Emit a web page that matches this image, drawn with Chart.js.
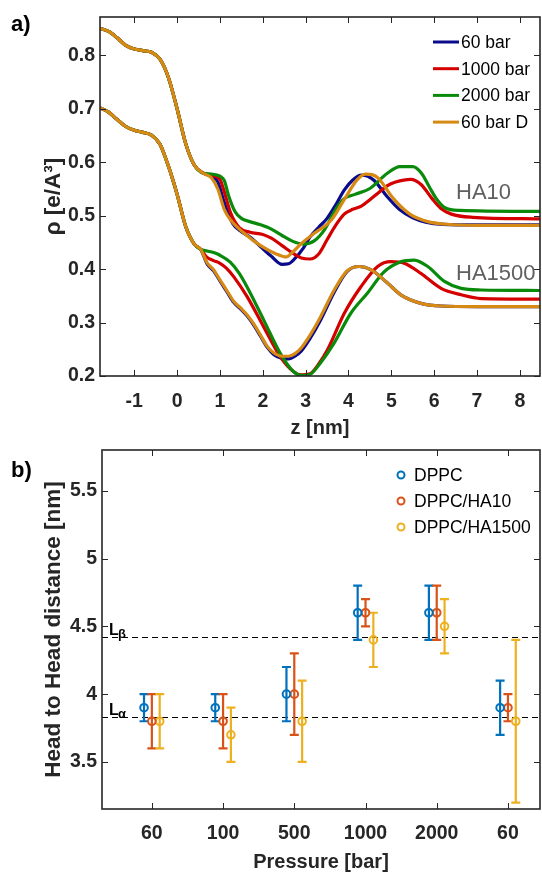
<!DOCTYPE html>
<html>
<head>
<meta charset="utf-8">
<script src="https://cdn.jsdelivr.net/npm/chart.js@4.4.0/dist/chart.umd.min.js"></script>
<style>
  html, body { margin: 0; padding: 0; background: #fff; }
  #wrap { position: relative; width: 542px; height: 875px; }
  #densidade { position: absolute; left: 0; top: 0; }
  #distancia { position: absolute; left: 0; top: 440px; }
</style>
</head>
<body>
<div id="wrap">
  <canvas id="densidade" width="542" height="440"></canvas>
  <canvas id="distancia" width="542" height="435"></canvas>
</div>
<script>
// ---- painel a) perfis de densidade ----
const pressoes = ['60 bar', '1000 bar', '2000 bar', '60 bar D'];
const coresPressao = ['#0a0a8c', '#d40000', '#0a8a0a', '#d68a14'];
const zTicks = [-1, 0, 1, 2, 3, 4, 5, 6, 7, 8];
const rhoTicks = [0.2, 0.3, 0.4, 0.5, 0.6, 0.7, 0.8];

// parte comum (z, rho) antes das curvas se separarem
const inicioHA10 = [[-1.8,0.851],[-1.6,0.845],[-1.4,0.833],[-1.2,0.819],[-1.0,0.812],[-0.8,0.809],[-0.6,0.806],[-0.4,0.793],[-0.2,0.758],[0.0,0.700],[0.2,0.635],[0.4,0.595],[0.6,0.580]];
const inicioHA1500 = [[-1.8,0.702],[-1.6,0.694],[-1.4,0.680],[-1.2,0.667],[-1.0,0.660],[-0.8,0.656],[-0.6,0.651],[-0.4,0.634],[-0.2,0.592],[0.0,0.540],[0.2,0.480],[0.4,0.447],[0.55,0.437]];

const ha10_60 = inicioHA10.concat([[0.8,0.574],[0.95,0.563],[1.1,0.525],[1.3,0.485],[1.5,0.470],[1.7,0.460],[1.95,0.442],[2.2,0.424],[2.45,0.409],[2.6,0.410],[2.75,0.420],[2.95,0.440],[3.1,0.460],[3.3,0.478],[3.5,0.495],[3.7,0.520],[3.9,0.548],[4.1,0.567],[4.3,0.576],[4.45,0.574],[4.6,0.566],[4.9,0.536],[5.2,0.511],[5.5,0.496],[5.8,0.488],[6.2,0.484],[7.0,0.483],[8.5,0.483]]);
const ha10_1000 = inicioHA10.concat([[0.8,0.576],[1.0,0.568],[1.1,0.545],[1.25,0.505],[1.45,0.478],[1.7,0.469],[2.0,0.465],[2.2,0.458],[2.45,0.444],[2.7,0.430],[2.9,0.421],[3.1,0.419],[3.3,0.428],[3.5,0.455],[3.7,0.482],[3.9,0.503],[4.1,0.512],[4.3,0.518],[4.5,0.530],[4.7,0.543],[4.9,0.556],[5.1,0.563],[5.45,0.568],[5.7,0.558],[5.95,0.532],[6.15,0.514],[6.4,0.503],[6.9,0.497],[8.5,0.494]]);
const ha10_2000 = inicioHA10.concat([[0.8,0.578],[1.0,0.574],[1.1,0.566],[1.2,0.538],[1.35,0.508],[1.5,0.495],[1.7,0.489],[1.95,0.483],[2.2,0.475],[2.45,0.463],[2.7,0.452],[2.95,0.447],[3.2,0.453],[3.45,0.475],[3.7,0.512],[3.9,0.532],[4.15,0.540],[4.5,0.551],[4.9,0.579],[5.2,0.592],[5.5,0.592],[5.7,0.580],[5.9,0.552],[6.05,0.532],[6.25,0.515],[6.6,0.510],[8.5,0.508]]);
const ha10_60D = inicioHA10.concat([[0.8,0.571],[0.95,0.550],[1.1,0.512],[1.25,0.492],[1.55,0.468],[1.95,0.444],[2.3,0.429],[2.55,0.423],[2.7,0.432],[2.9,0.448],[3.2,0.467],[3.6,0.492],[3.9,0.530],[4.2,0.567],[4.4,0.578],[4.55,0.577],[4.7,0.570],[5.05,0.532],[5.45,0.502],[5.85,0.489],[6.3,0.484],[7.0,0.482],[8.5,0.482]]);

const ha1500_60 = inicioHA1500.concat([[0.7,0.410],[0.85,0.397],[1.0,0.378],[1.16,0.358],[1.32,0.338],[1.5,0.324],[1.65,0.311],[1.8,0.294],[1.95,0.274],[2.1,0.254],[2.26,0.240],[2.45,0.233],[2.6,0.232],[2.75,0.237],[2.9,0.247],[3.1,0.270],[3.35,0.305],[3.66,0.356],[3.97,0.396],[4.25,0.405],[4.52,0.399],[4.91,0.374],[5.22,0.352],[5.69,0.336],[6.16,0.331],[7.0,0.330],[8.5,0.330]]);
const ha1500_1000 = inicioHA1500.concat([[0.7,0.422],[0.85,0.416],[1.0,0.411],[1.15,0.402],[1.32,0.386],[1.63,0.349],[2.02,0.292],[2.41,0.236],[2.72,0.208],[2.9,0.202],[3.1,0.204],[3.3,0.222],[3.51,0.249],[3.9,0.317],[4.29,0.367],[4.68,0.405],[4.99,0.414],[5.3,0.411],[5.69,0.392],[6.16,0.364],[6.63,0.352],[7.1,0.345],[8.5,0.344]]);
const ha1500_2000 = inicioHA1500.concat([[0.7,0.434],[0.85,0.431],[1.0,0.426],[1.24,0.413],[1.45,0.392],[1.63,0.367],[2.02,0.305],[2.41,0.242],[2.72,0.208],[2.9,0.201],[3.1,0.203],[3.35,0.225],[3.66,0.261],[4.05,0.317],[4.44,0.355],[4.83,0.395],[5.22,0.414],[5.53,0.417],[5.85,0.405],[6.24,0.377],[6.63,0.364],[7.1,0.361],[8.5,0.360]]);
const ha1500_60D = inicioHA1500.concat([[0.7,0.412],[0.85,0.399],[1.0,0.380],[1.16,0.360],[1.32,0.340],[1.5,0.326],[1.65,0.313],[1.8,0.296],[1.95,0.276],[2.1,0.256],[2.26,0.243],[2.45,0.237],[2.6,0.237],[2.75,0.242],[2.9,0.253],[3.1,0.276],[3.35,0.311],[3.66,0.360],[3.97,0.397],[4.25,0.405],[4.52,0.399],[4.91,0.374],[5.22,0.352],[5.69,0.336],[6.16,0.331],[7.0,0.330],[8.5,0.330]]);

// ---- painel b) distancia cabeca a cabeca ----
const rotulosPressao = ['60', '100', '500', '1000', '2000', '60'];
const amostras = ['DPPC', 'DPPC/HA10', 'DPPC/HA1500'];
const coresAmostra = ['#0072bd', '#d95319', '#edb120'];
const dppc = [3.9, 3.9, 4.0, 4.6, 4.6, 3.9];
const dppcErro = [0.1, 0.1, 0.2, 0.2, 0.2, 0.2];
const dppcHA10 = [3.8, 3.8, 4.0, 4.6, 4.6, 3.9];
const dppcHA10Erro = [0.2, 0.2, 0.3, 0.1, 0.2, 0.1];
const dppcHA1500 = [3.8, 3.7, 3.8, 4.4, 4.5, 3.8];
const dppcHA1500Erro = [0.2, 0.2, 0.3, 0.2, 0.2, 0.6];
const distTicks = [3.5, 4, 4.5, 5, 5.5];
const distRotulos = ['3.5', '4', '4.5', '5', '5.5'];
const fases = [{ nome: 'β', valor: 4.42 }, { nome: 'α', valor: 3.83 }];

const FONTE = "'Liberation Sans', Arial, sans-serif";
const COR_EIXO = '#262626';
const fonteTick = { family: FONTE, size: 19.5, weight: 'bold' };
const fonteTitulo = { family: FONTE, size: 20, weight: 'bold' };
const fonteTituloY = { family: FONTE, size: 22.5, weight: 'bold' };

Chart.defaults.font.family = FONTE;
Chart.defaults.color = COR_EIXO;

// sem folgas automaticas: a area do grafico fica onde o layout manda
function semFolga(s) {
  s.paddingTop = 0; s.paddingBottom = 0; s.paddingLeft = 0; s.paddingRight = 0;
}

// moldura e ticks para dentro nos quatro lados
const moldura = {
  id: 'moldura',
  afterDraw(chart) {
    const { ctx, chartArea: a, scales: { x, y } } = chart;
    ctx.save();
    ctx.strokeStyle = COR_EIXO;
    ctx.lineWidth = 1;
    ctx.beginPath();
    x.ticks.forEach(t => {
      const px = Math.round(x.getPixelForValue(t.value)) + 0.5;
      ctx.moveTo(px, a.bottom); ctx.lineTo(px, a.bottom - 6);
      ctx.moveTo(px, a.top); ctx.lineTo(px, a.top + 6);
    });
    y.ticks.forEach(t => {
      const py = Math.round(y.getPixelForValue(t.value)) + 0.5;
      ctx.moveTo(a.left, py); ctx.lineTo(a.left + 6, py);
      ctx.moveTo(a.right, py); ctx.lineTo(a.right - 6, py);
    });
    ctx.stroke();
    ctx.lineWidth = 1.6;
    ctx.strokeRect(a.left, a.top, a.right - a.left, a.bottom - a.top);
    ctx.restore();
  }
};

const anotacoesA = {
  id: 'anotacoesA',
  afterDraw(chart) {
    const ctx = chart.ctx;
    ctx.save();
    ctx.fillStyle = '#000';
    ctx.font = `bold 22px ${FONTE}`;
    ctx.textBaseline = 'middle';
    ctx.fillText('a)', 11, 25);

    ctx.font = `17.5px ${FONTE}`;
    pressoes.forEach((p, i) => {
      const yy = 42 + i * 26.7;
      ctx.strokeStyle = coresPressao[i];
      ctx.lineWidth = 3;
      ctx.beginPath(); ctx.moveTo(433, yy); ctx.lineTo(459, yy); ctx.stroke();
      ctx.fillStyle = '#000';
      ctx.fillText(p, 461, yy + 1);
    });

    ctx.fillStyle = '#606060';
    ctx.font = `22px ${FONTE}`;
    ctx.textBaseline = 'alphabetic';
    ctx.fillText('HA10', 456, 199);
    ctx.fillText('HA1500', 456, 280);
    ctx.restore();
  }
};

function curva(dados, i, ordem) {
  return {
    label: pressoes[i],
    data: dados.map(([z, r]) => ({ x: z, y: r })),
    showLine: true,
    borderColor: coresPressao[i],
    borderWidth: 3.2,
    pointRadius: 0,
    cubicInterpolationMode: 'monotone',
    order: ordem
  };
}

new Chart(document.getElementById('densidade'), {
  type: 'scatter',
  data: {
    datasets: [
      curva(ha10_60, 0, 4), curva(ha10_1000, 1, 3), curva(ha10_2000, 2, 2), curva(ha10_60D, 3, 1),
      curva(ha1500_60, 0, 4), curva(ha1500_1000, 1, 3), curva(ha1500_2000, 2, 2), curva(ha1500_60D, 3, 1)
    ]
  },
  options: {
    responsive: false,
    animation: false,
    layout: { autoPadding: false, padding: { top: 17, right: 2, left: 0, bottom: 0 } },
    plugins: { legend: { display: false }, tooltip: { enabled: false } },
    scales: {
      x: {
        type: 'linear', min: -1.8, max: 8.47,
        afterBuildTicks: s => { s.ticks = zTicks.map(v => ({ value: v })); },
        afterFit: s => { s.height = 64; semFolga(s); },
        grid: { display: false, drawTicks: false },
        border: { display: false },
        ticks: { padding: 14, font: fonteTick, color: COR_EIXO, autoSkip: false, maxRotation: 0, callback: v => String(v) },
        title: { display: true, text: 'z [nm]', font: fonteTitulo, color: COR_EIXO, padding: { top: 0, bottom: 0 } }
      },
      y: {
        type: 'linear', min: 0.2, max: 0.872,
        afterBuildTicks: s => { s.ticks = rhoTicks.map(v => ({ value: v })); },
        afterFit: s => { s.width = 100; semFolga(s); },
        grid: { display: false, drawTicks: false },
        border: { display: false },
        ticks: { padding: 5, font: fonteTick, color: COR_EIXO, autoSkip: false, callback: v => v.toFixed(1) },
        title: { display: true, text: 'ρ [e/A³]', font: fonteTituloY, color: COR_EIXO, padding: { top: 40, bottom: 0 } }
      }
    }
  },
  plugins: [moldura, anotacoesA]
});

// barras de erro, linhas das fases e legenda do painel b
const anotacoesB = {
  id: 'anotacoesB',
  beforeDatasetsDraw(chart) {
    const { ctx, chartArea: a, scales: { y } } = chart;
    ctx.save();
    ctx.strokeStyle = '#000';
    ctx.lineWidth = 1;
    ctx.setLineDash([6, 4]);
    fases.forEach(f => {
      const py = Math.round(y.getPixelForValue(f.valor)) + 0.5;
      ctx.beginPath(); ctx.moveTo(a.left, py); ctx.lineTo(a.right, py); ctx.stroke();
    });
    ctx.setLineDash([]);
    ctx.fillStyle = '#000';
    fases.forEach(f => {
      const py = y.getPixelForValue(f.valor);
      ctx.font = `bold 16px ${FONTE}`;
      ctx.fillText('L', 109, py - 2);
      ctx.font = `bold 13px ${FONTE}`;
      ctx.fillText(f.nome, 118, py + 1);
    });

    chart.data.datasets.forEach((ds, i) => {
      const meta = chart.getDatasetMeta(i);
      ctx.strokeStyle = ds.borderColor;
      ctx.lineWidth = 2.2;
      meta.data.forEach((pt, j) => {
        const v = ds.data[j].y, e = ds.erro[j];
        const yTop = y.getPixelForValue(v + e), yBot = y.getPixelForValue(v - e);
        ctx.beginPath();
        ctx.moveTo(pt.x, yTop); ctx.lineTo(pt.x, yBot);
        ctx.moveTo(pt.x - 4.5, yTop); ctx.lineTo(pt.x + 4.5, yTop);
        ctx.moveTo(pt.x - 4.5, yBot); ctx.lineTo(pt.x + 4.5, yBot);
        ctx.stroke();
      });
    });
    ctx.restore();
  },
  afterDraw(chart) {
    const ctx = chart.ctx;
    ctx.save();
    ctx.fillStyle = '#000';
    ctx.font = `bold 22px ${FONTE}`;
    ctx.textBaseline = 'middle';
    ctx.fillText('b)', 11, 31);
    ctx.font = `17.5px ${FONTE}`;
    amostras.forEach((s, i) => {
      const yy = 35 + i * 26;
      ctx.strokeStyle = coresAmostra[i];
      ctx.lineWidth = 2;
      ctx.beginPath(); ctx.arc(401, yy, 3.5, 0, Math.PI * 2); ctx.stroke();
      ctx.fillStyle = '#000';
      ctx.fillText(s, 414, yy + 1);
    });
    ctx.restore();
  }
};

function serie(valores, erros, i, desloc) {
  return {
    label: amostras[i],
    data: valores.map((v, k) => ({ x: k + desloc, y: v })),
    erro: erros,
    borderColor: coresAmostra[i],
    backgroundColor: 'rgba(0,0,0,0)',
    pointRadius: 3.8,
    pointBorderWidth: 2,
    pointStyle: 'circle'
  };
}

new Chart(document.getElementById('distancia'), {
  type: 'scatter',
  data: {
    datasets: [
      serie(dppc, dppcErro, 0, -0.11),
      serie(dppcHA10, dppcHA10Erro, 1, 0),
      serie(dppcHA1500, dppcHA1500Erro, 2, 0.11)
    ]
  },
  options: {
    responsive: false,
    animation: false,
    layout: { autoPadding: false, padding: { top: 10, right: 2, left: 0, bottom: 0 } },
    plugins: { legend: { display: false }, tooltip: { enabled: false } },
    scales: {
      x: {
        type: 'linear', min: -0.7, max: 5.45,
        afterBuildTicks: s => { s.ticks = rotulosPressao.map((r, k) => ({ value: k })); },
        afterFit: s => { s.height = 66; semFolga(s); },
        grid: { display: false, drawTicks: false },
        border: { display: false },
        ticks: { padding: 13, font: fonteTick, color: COR_EIXO, autoSkip: false, maxRotation: 0, callback: (v, k) => rotulosPressao[k] },
        title: { display: true, text: 'Pressure [bar]', font: fonteTitulo, color: COR_EIXO, padding: { top: 0, bottom: 1 } }
      },
      y: {
        type: 'linear', min: 3.153, max: 5.8,
        afterBuildTicks: s => { s.ticks = distTicks.map(v => ({ value: v })); },
        afterFit: s => { s.width = 102; semFolga(s); },
        grid: { display: false, drawTicks: false },
        border: { display: false },
        ticks: { padding: 5, font: fonteTick, color: COR_EIXO, autoSkip: false, callback: (v, k) => distRotulos[k] },
        title: { display: true, text: 'Head to Head distance [nm]', font: fonteTituloY, color: COR_EIXO, padding: { top: 40, bottom: 0 } }
      }
    }
  },
  plugins: [moldura, anotacoesB]
});
</script>
</body>
</html>
